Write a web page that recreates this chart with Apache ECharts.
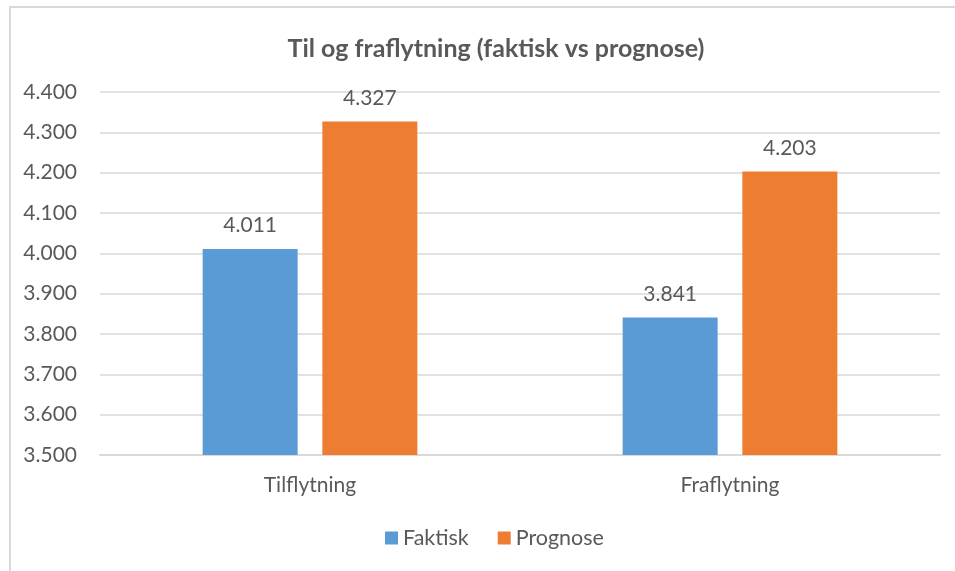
<!DOCTYPE html>
<html>
<head>
<meta charset="utf-8">
<script src="https://cdn.jsdelivr.net/npm/echarts@6/dist/echarts.min.js"></script>
<style>
  html, body { margin: 0; padding: 0; background: #fff; overflow: hidden; }
  #frame {
    position: absolute; left: 9px; top: 6px; width: 1000px; height: 700px;
    border: 2px solid #d9d9d9; box-sizing: border-box;
  }
  #chart { position: absolute; left: 0; top: 0; width: 955px; height: 571px; }
</style>
</head>
<body>
<div id="frame"></div>
<div id="chart"></div>
<script>
// kategorier og verdier
const categories = ["Tilflytning", "Fraflytning"];
const faktisk = [4011, 3841];
const prognose = [4327, 4203];
const seriesNames = ["Faktisk", "Prognose"];

// formatering med punktum som tusenskille
const fmt = (v) => {
  const s = String(Math.round(v));
  return s.replace(/\B(?=(\d{3})+(?!\d))/g, ".");
};

const textColor = "#595959";
const fontFamily = "Lato, 'Open Sans', sans-serif";
const fs = 21;

const chart = echarts.init(document.getElementById("chart"));

const barLabel = {
  show: true,
  position: "top",
  distance: 13,
  color: textColor,
  fontSize: fs,
  fontFamily: fontFamily,
  formatter: (p) => fmt(p.value),
};

const option = {
  animation: false,
  textStyle: { fontFamily: fontFamily },
  title: {
    text: "Til og fraflytning (faktisk vs prognose)",
    left: 491,
    top: 31,
    textAlign: "center",
    textStyle: {
      color: textColor,
      fontSize: 25,
      fontWeight: "bold",
      fontFamily: fontFamily,
    },
  },
  legend: {
    bottom: 17,
    left: 380,
    icon: "rect",
    itemWidth: 13,
    itemHeight: 13,
    itemGap: 29,
    itemStyle: { borderWidth: 0 },
    textStyle: { color: textColor, fontSize: 21.5, fontFamily: fontFamily },
    data: seriesNames,
  },
  grid: {
    left: 100,
    right: 15,
    top: 92,
    bottom: 116,
    containLabel: false,
  },
  xAxis: {
    type: "category",
    data: categories,
    axisLine: { lineStyle: { color: "#d9d9d9", width: 2 } },
    axisTick: { show: false },
    axisLabel: {
      color: textColor,
      fontSize: fs,
      margin: 20,
      fontFamily: fontFamily,
    },
  },
  yAxis: {
    type: "value",
    min: 3500,
    max: 4400,
    interval: 100,
    axisLine: { show: false },
    axisTick: { show: false },
    splitLine: { lineStyle: { color: "#d9d9d9", width: 1.5 } },
    axisLabel: {
      color: textColor,
      fontSize: fs,
      margin: 23,
      fontFamily: fontFamily,
      formatter: fmt,
    },
  },
  series: [
    {
      name: seriesNames[0],
      type: "bar",
      data: faktisk,
      barWidth: 95,
      barGap: "26%",
      itemStyle: { color: "#5B9BD5" },
      label: barLabel,
    },
    {
      name: seriesNames[1],
      type: "bar",
      data: prognose,
      barWidth: 95,
      barGap: "26%",
      itemStyle: { color: "#ED7D31" },
      label: barLabel,
    },
  ],
};

chart.setOption(option);
</script>
</body>
</html>
